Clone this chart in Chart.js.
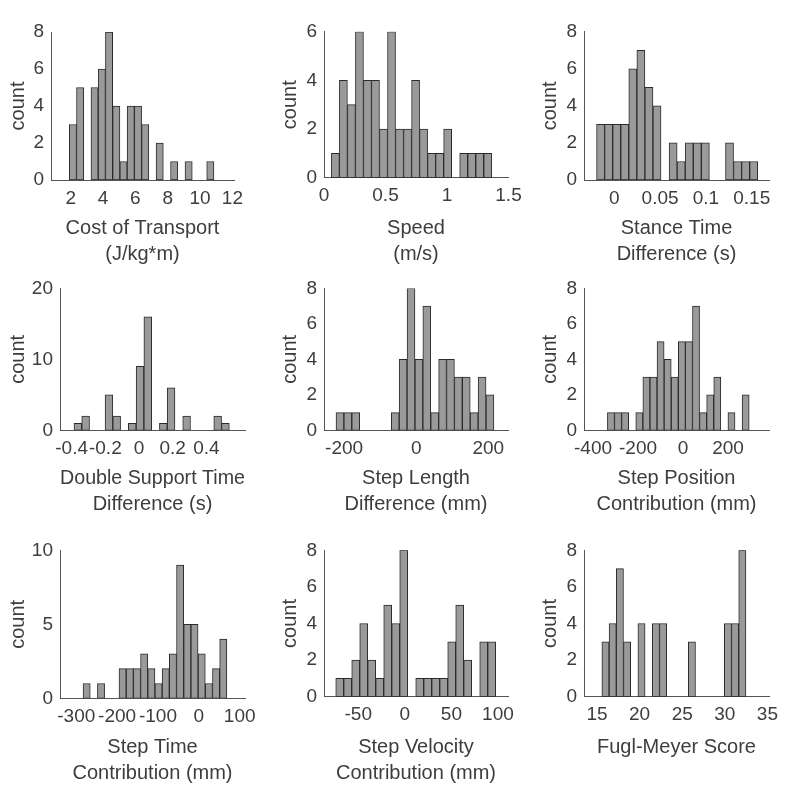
<!DOCTYPE html>
<html lang="en">
<head>
  <meta charset="UTF-8">
  <title>Gait histograms</title>
  <script src="https://cdn.jsdelivr.net/npm/chart.js"></script>
  <style>
    body { margin: 0; background: #fff; }
    #wrap { position: relative; width: 800px; height: 804px; }
    #wrap canvas { position: absolute; }
  </style>
</head>
<body>
  <div id="wrap"></div>

  <script>
    // Counts per bin (20 bins each)
    const costCounts     = [3,5,0,5,6,8,4,1,4,4,3,0,2,0,1,0,1,0,0,1];
    const speedCounts    = [1,4,3,6,4,4,2,6,2,2,4,2,1,1,2,0,1,1,1,1];
    const stanceCounts   = [3,3,3,3,6,7,5,4,0,2,1,2,2,2,0,0,2,1,1,1];
    const dblSuppCounts  = [1,2,0,0,5,2,0,1,9,16,0,1,6,0,2,0,0,0,2,1];
    const stepLenCounts  = [1,1,1,0,0,0,0,1,4,8,4,7,1,4,4,3,3,1,3,2];
    const stepPosCounts  = [1,1,1,0,1,3,3,5,4,3,5,5,7,1,2,3,0,1,0,2];
    const stepTimeCounts = [1,0,1,0,0,2,2,2,3,2,1,2,3,9,5,5,3,1,2,4];
    const stepVelCounts  = [1,1,2,4,2,1,5,4,8,0,1,1,1,1,3,5,2,0,3,3];
    const fuglCounts     = [3,4,7,3,0,4,0,4,4,0,0,0,3,0,0,0,0,4,4,8];

    const allCounts = [costCounts, speedCounts, stanceCounts, dblSuppCounts, stepLenCounts,
                       stepPosCounts, stepTimeCounts, stepVelCounts, fuglCounts];

    // first bin edge and bin width (data units)
    const binStart = [1.91, 0.06, -0.0193, -0.386, -222.5, -336, -283.4, -74.2, 15.57];
    const binWidth = [0.4475, 0.0652, 0.00879, 0.0461, 21.9, 31.5, 17.6, 8.59, 0.8455];

    // axis limits
    const xMin = [0.78, 0, -0.033, -0.469, -255.8, -440, -339.8, -86.8, 13.47];
    const xMax = [12.1, 1.496, 0.1688, 0.629, 254.6, 382, 113, 110.8, 35.19];
    const yMax = [8, 6, 8, 20, 8, 8, 10, 8, 8];

    // tick labels
    const xTicks = [
      [2, 4, 6, 8, 10, 12],
      [0, 0.5, 1, 1.5],
      [0, 0.05, 0.1, 0.15],
      [-0.4, -0.2, 0, 0.2, 0.4],
      [-200, 0, 200],
      [-400, -200, 0, 200],
      [-300, -200, -100, 0, 100],
      [-50, 0, 50, 100],
      [15, 20, 25, 30, 35]
    ];
    const yTicks = [
      [0, 2, 4, 6, 8], [0, 2, 4, 6], [0, 2, 4, 6, 8],
      [0, 10, 20], [0, 2, 4, 6, 8], [0, 2, 4, 6, 8],
      [0, 5, 10], [0, 2, 4, 6, 8], [0, 2, 4, 6, 8]
    ];

    const xTitles = [
      ['Cost of Transport', '(J/kg*m)'],
      ['Speed', '(m/s)'],
      ['Stance Time', 'Difference (s)'],
      ['Double Support Time', 'Difference (s)'],
      ['Step Length', 'Difference (mm)'],
      ['Step Position', 'Contribution (mm)'],
      ['Step Time', 'Contribution (mm)'],
      ['Step Velocity', 'Contribution (mm)'],
      ['Fugl-Meyer Score']
    ];

    // page layout: canvas box + plot area edges (px)
    const cols = [[0, 265], [265, 265], [530, 270]];
    const rows = [[0, 270, 3], [270, 250, 3], [520, 284, 18]];
    const plotX = [[51, 234], [324, 508], [584, 769],
                   [60, 245], [324, 508], [584, 769],
                   [60, 245], [324, 508], [584, 769]];
    const plotY = [[32, 180], [31.7, 177.7], [31.7, 180],
                   [283.3, 430.3], [283.3, 430.3], [283.3, 430.3],
                   [550.3, 698.3], [550.3, 696.7], [550.3, 696.7]];
    const countPad = [6, 13, 8];

    const font = '"Liberation Sans", Arial, Helvetica, sans-serif';
    const textColor = '#3d3d3d';
    const axisColor = '#555';
    const titleLine = 26;

    const wrap = document.getElementById('wrap');

    allCounts.forEach((counts, i) => {
      const col = cols[i % 3], row = rows[Math.floor(i / 3)];
      const cx = col[0], cw = col[1], cy = row[0], ch = row[1];
      const [L, R] = plotX[i];
      const [T, B] = plotY[i];

      const cv = document.createElement('canvas');
      cv.width = cw; cv.height = ch;
      cv.style.left = cx + 'px'; cv.style.top = cy + 'px';
      cv.style.width = cw + 'px'; cv.style.height = ch + 'px';
      wrap.appendChild(cv);

      const data = counts.map((c, k) => ({ x: binStart[i] + (k + 0.5) * binWidth[i], y: c }));
      const nLines = xTitles[i].length;

      new Chart(cv, {
        type: 'bar',
        data: {
          datasets: [{
            data: data,
            backgroundColor: '#9a9a9a',
            borderColor: '#2b2b2b',
            borderWidth: 1,
            borderSkipped: false,
            barPercentage: 1,
            categoryPercentage: 1
          }]
        },
        options: {
          responsive: false,
          animation: false,
          layout: { padding: { top: T - cy, right: cx + cw - R, left: 0, bottom: 0 } },
          plugins: { legend: { display: false }, tooltip: { enabled: false } },
          scales: {
            x: {
              type: 'linear',
              offset: false,
              min: xMin[i],
              max: xMax[i],
              grid: { display: false, drawTicks: false, tickLength: 0 },
              border: { display: true, color: axisColor, width: 1 },
              afterBuildTicks: axis => { axis.ticks = xTicks[i].map(v => ({ value: v })); },
              afterFit: axis => { axis.height = cy + ch - B; },
              ticks: {
                color: textColor,
                font: { family: font, size: 19 },
                padding: 7,
                maxRotation: 0,
                autoSkip: false,
                callback: v => String(v)
              },
              title: {
                display: true,
                text: xTitles[i],
                color: textColor,
                font: { family: font, size: 20, lineHeight: titleLine + 'px' },
                padding: { top: 0, bottom: row[2] + (2 - nLines) * titleLine }
              }
            },
            y: {
              min: 0,
              max: yMax[i],
              grid: { display: false, drawTicks: false, tickLength: 0 },
              border: { display: true, color: axisColor, width: 1 },
              afterBuildTicks: axis => { axis.ticks = yTicks[i].map(v => ({ value: v })); },
              afterFit: axis => { axis.width = L - cx; },
              ticks: {
                color: textColor,
                font: { family: font, size: 19 },
                padding: 7,
                callback: v => String(v)
              },
              title: {
                display: true,
                text: 'count',
                color: textColor,
                font: { family: font, size: 20 },
                padding: { top: countPad[i % 3], bottom: 0 }
              }
            }
          }
        }
      });
    });
  </script>
</body>
</html>
